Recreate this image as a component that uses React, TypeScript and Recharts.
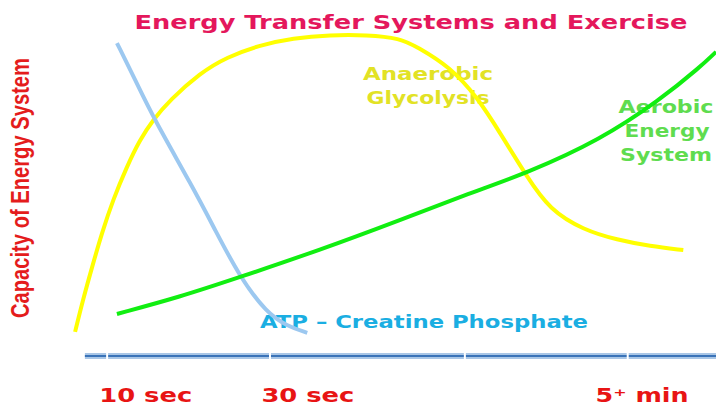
import { LineChart, Line, XAxis, YAxis, ReferenceLine } from "recharts";

// time runs 0..100 along the axis, capacity 0..100 up the side
const glycolysisX = [2, 3.2, 4.6, 6.1, 7.8, 9.9, 11.9, 13.9, 16.5, 21.1, 25.2, 30.3, 35.3, 41, 46.6, 51.7, 54.3, 59.3, 63.5, 67, 71.1, 74.6, 79.7, 84.9, 89.9, 95];
const glycolysisY = [7.4, 17.2, 27.3, 37.7, 47.9, 58, 66.3, 72.4, 78.5, 86.8, 91.7, 95.4, 97.5, 98.5, 98.5, 97.5, 94.8, 88.7, 79.4, 68.4, 54.9, 44.8, 38.7, 35.6, 33.7, 32.5];

const atpX = [8.4, 11.2, 13.9, 20, 23.4, 27.2, 31.3, 34.4, 37.5];
const atpY = [96, 84.7, 73.3, 51.8, 38.7, 24.2, 13.2, 9.2, 7.1];

const aerobicX = [8.4, 18, 27.2, 39.4, 51.7, 62.4, 71.1, 82.3, 91.4, 97.6, 100];
const aerobicY = [12.9, 18.1, 24.2, 32.5, 41.7, 50, 56.1, 66.3, 78.5, 88.7, 93.3];

const tickValues = [12.8, 37.6, 88.7];
const tickLabels = ["10 sec", "30 sec", "5\u207A min"];
const tickGaps = [6.9, 31.8, 61.6, 86.5];

const zip = (xs: number[], ys: number[]) => xs.map((x, i) => ({ x, y: ys[i] }));
const glycolysis = zip(glycolysisX, glycolysisY);
const atp = zip(atpX, atpY);
const aerobic = zip(aerobicX, aerobicY);

const FONT = "'DejaVu Sans', Verdana, sans-serif";

const TimeTick = (props: any) => {
  const { x, y, payload } = props;
  const i = tickValues.indexOf(payload.value);
  return (
    <text x={x} y={y + 38} textAnchor="middle" fill="#e81414" fontFamily={FONT} fontWeight="bold" fontSize={19} textLength={93} lengthAdjust="spacingAndGlyphs">
      {tickLabels[i]}
    </text>
  );
};

export default function App() {
  return (
    <div style={{ position: "absolute", left: 0, top: 0, background: "#fff" }}>
      <LineChart width={716} height={406} margin={{ top: 30, right: 0, bottom: 0, left: 62 }}>
        <XAxis type="number" dataKey="x" domain={[0, 100]} ticks={tickValues} axisLine={false} tickLine={false} height={50} tick={<TimeTick />} />
        <YAxis type="number" dataKey="y" domain={[0, 100]} hide />

        <ReferenceLine segment={[{ x: 3.5, y: 0 }, { x: 100, y: 0 }]} stroke="#a9c6e6" strokeWidth={6} ifOverflow="visible" />
        <ReferenceLine segment={[{ x: 3.5, y: 0 }, { x: 100, y: 0 }]} stroke="#3a73b8" strokeWidth={2} ifOverflow="visible" />
        {tickGaps.map((g) => (
          <ReferenceLine key={g} segment={[{ x: g, y: -1.2 }, { x: g, y: 1.2 }]} stroke="#ffffff" strokeWidth={2} ifOverflow="visible" />
        ))}

        <Line data={glycolysis} dataKey="y" type="basis" stroke="#ffff00" strokeWidth={4} dot={false} isAnimationActive={false} />
        <Line data={atp} dataKey="y" type="basis" stroke="#9cc8f0" strokeWidth={4} dot={false} isAnimationActive={false} />
        <Line data={aerobic} dataKey="y" type="basis" stroke="#11ee11" strokeWidth={4} dot={false} isAnimationActive={false} />

        <text x={411} y={29} textAnchor="middle" fill="#e4175c" fontFamily={FONT} fontWeight="bold" fontSize={19} textLength={553} lengthAdjust="spacingAndGlyphs">
          Energy Transfer Systems and Exercise
        </text>
        <text transform="translate(29,188) rotate(-90) scale(1,1.3)" textAnchor="middle" fill="#e41c1c" fontFamily="'Liberation Sans Narrow', 'Liberation Sans', Arial, sans-serif" fontWeight="bold" fontSize={20} textLength={260} lengthAdjust="spacingAndGlyphs">
          Capacity of Energy System
        </text>
        <g fill="#e2e225" fontFamily={FONT} fontWeight="bold" fontSize={17} textAnchor="middle">
          <text x={428} y={80} textLength={130} lengthAdjust="spacingAndGlyphs">Anaerobic</text>
          <text x={428} y={104} textLength={123} lengthAdjust="spacingAndGlyphs">Glycolysis</text>
        </g>
        <g fill="#5fdc4f" fontFamily={FONT} fontWeight="bold" fontSize={17} textAnchor="middle">
          <text x={666} y={113} textLength={95} lengthAdjust="spacingAndGlyphs">Aerobic</text>
          <text x={667} y={137} textLength={85} lengthAdjust="spacingAndGlyphs">Energy</text>
          <text x={666} y={161} textLength={92} lengthAdjust="spacingAndGlyphs">System</text>
        </g>
        <text x={424} y={328} textAnchor="middle" fill="#1aaee2" fontFamily={FONT} fontWeight="bold" fontSize={17} textLength={328} lengthAdjust="spacingAndGlyphs">
          ATP – Creatine Phosphate
        </text>
      </LineChart>
    </div>
  );
}
